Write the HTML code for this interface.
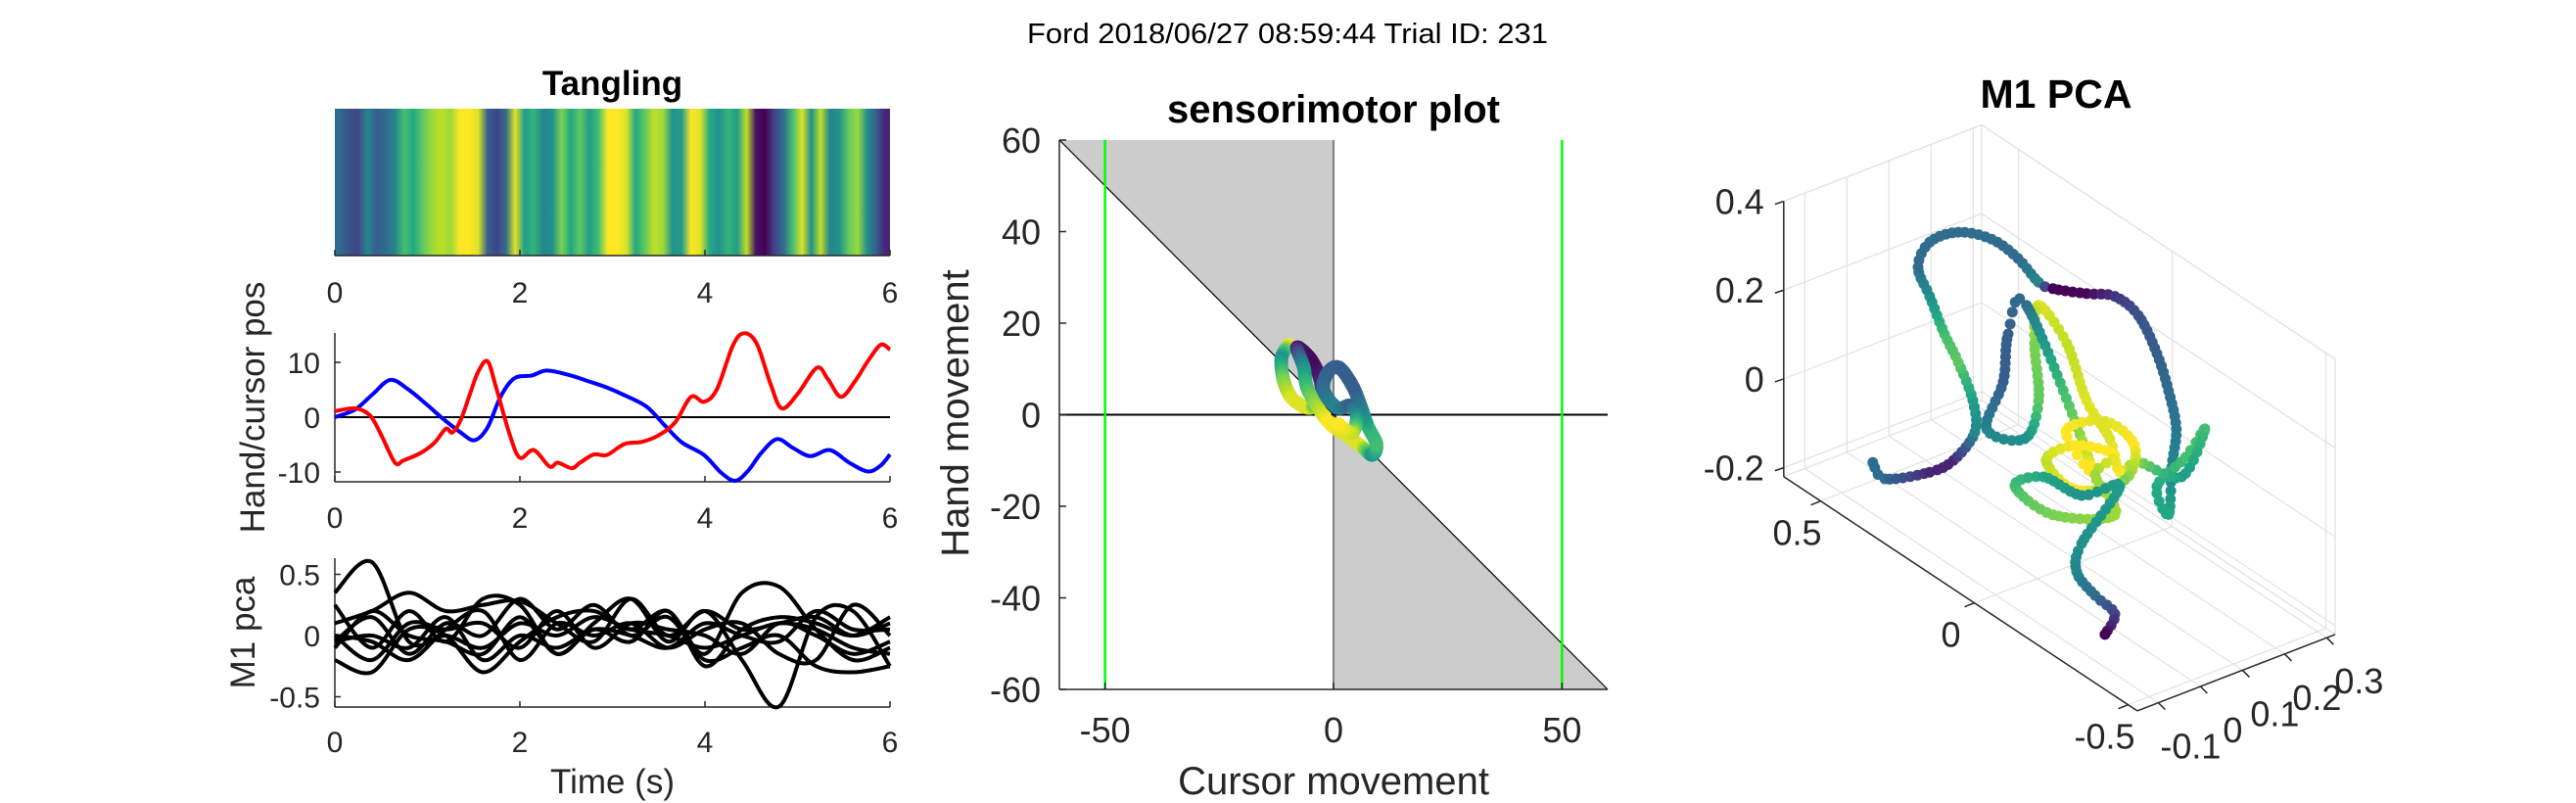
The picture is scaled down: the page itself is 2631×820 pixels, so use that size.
<!DOCTYPE html>
<html><head><meta charset="utf-8"><title>Ford trial 231</title>
<style>html,body{margin:0;padding:0;background:#fff;}svg{display:block;font-family:"Liberation Sans",Arial,sans-serif;}</style>
</head><body>
<svg id="fig" xmlns="http://www.w3.org/2000/svg" width="2631" height="820" viewBox="0 0 2631 820">
<defs><linearGradient id="tangGrad" x1="0" x2="1" y1="0" y2="0"></linearGradient></defs>
<text x="1315" y="44" font-size="29" text-anchor="middle" textLength="532" lengthAdjust="spacingAndGlyphs" fill="#000">Ford 2018/06/27 08:59:44 Trial ID: 231</text>
<g id="left"></g>
<g id="mid"></g>
<g id="pca"></g>
</svg>
<script>
// ---------- DATA ----------
const tangling = [0.35,0.25,0.2,0.45,0.3,0.35,0.45,0.7,0.6,0.75,0.85,0.9,0.85,1.0,1.0,0.95,0.3,0.2,0.35,0.95,0.55,0.65,0.45,0.5,0.8,0.6,0.75,0.55,0.7,1.0,1.0,0.95,0.6,0.75,0.9,0.85,0.5,0.55,1.0,0.95,0.6,0.5,0.65,0.55,0.9,0.05,0.0,0.2,0.35,0.7,0.95,0.5,0.9,0.45,0.5,0.75,0.85,0.5,0.3,0.1];
const cursorT = [0,0.22,0.38,0.5,0.65,0.74,0.93,1.08,1.2,1.27,1.36,1.46,1.55,1.65,1.74,1.89,2.0,2.15,2.32,2.41,2.56,2.65,2.8,2.94,3.13,3.32,3.51,3.68,3.85,3.99,4.13,4.3,4.42,4.56,4.71,4.83,5.0,5.21,5.33,5.47,5.62,5.76,5.9,6.0];
const cursorPos = [1.1,1.6,0.3,-3.2,-8.3,-7.9,-6.5,-4.6,-2.1,-2.8,-0.5,4.2,8.3,10.2,5.6,-3.2,-7.4,-6.0,-9.0,-8.3,-9.3,-8.3,-6.8,-6.9,-4.9,-4.5,-3.2,-0.9,3.7,2.8,5.1,13.0,15.3,13.4,6.0,1.6,4.2,9.0,6.9,3.7,6.5,10.2,13.2,12.3];
const handT = [0,0.22,0.41,0.6,0.79,0.98,1.17,1.36,1.51,1.65,1.79,1.94,2.13,2.29,2.53,2.75,2.94,3.13,3.37,3.56,3.75,3.99,4.18,4.33,4.47,4.61,4.78,4.95,5.14,5.35,5.56,5.76,5.9,6.0];
const handPos = [0,1.4,4.2,6.8,5.1,2.5,-0.3,-2.8,-4.2,-1.9,3.7,7.1,7.6,8.5,7.7,6.5,5.4,4.0,1.9,-1.4,-4.6,-6.9,-10.2,-11.6,-9.7,-6.5,-4.0,-5.6,-7.1,-6.0,-8.3,-9.9,-8.8,-6.8];
const pcaT = [0,0.4,0.8,1.2,1.6,2.0,2.4,2.8,3.2,3.6,4.0,4.4,4.8,5.2,5.6,6.0];
const pc1 = [0.35,0.6,-0.05,0.0,-0.1,0.1,0.0,0.15,0.05,0.0,-0.1,0.0,0.1,0.05,-0.1,-0.15];
const pc2 = [0.1,0.2,0.35,0.2,0.25,0.28,0.1,-0.05,0.3,0.0,0.2,0.05,0.1,0.15,0.0,0.1];
const pc3 = [-0.2,-0.3,0.05,0.0,-0.3,-0.05,0.15,0.2,0.05,0.2,-0.15,0.35,0.4,0.05,-0.2,-0.1];
const pc4 = [0.25,-0.1,0.2,-0.05,0.3,0.25,-0.15,0.1,0.3,-0.05,0.2,-0.2,-0.58,0.15,0.2,-0.25];
const pc5 = [-0.05,0.15,-0.15,0.1,0.0,0.3,0.05,0.25,0.0,0.15,-0.2,-0.1,0.0,-0.25,-0.3,-0.25];
const pc6 = [0.0,-0.05,-0.2,0.05,0.2,-0.2,0.1,0.0,0.1,-0.1,0.05,0.1,-0.15,-0.2,0.25,0.0];
const pc7 = [-0.1,0.2,0.0,-0.05,-0.15,0.15,-0.15,0.05,-0.05,0.2,-0.25,0.05,0.15,0.1,0.0,0.15];
const pc8 = [0.0,-0.2,0.1,0.05,0.1,-0.1,0.2,-0.1,0.1,0.05,0.0,-0.15,0.1,0.0,-0.15,-0.05];
const pc9 = [-0.05,0.0,-0.1,0.15,-0.2,0.0,-0.1,0.05,0.0,-0.1,0.1,0.0,-0.05,0.2,0.05,0.05];
const smCursor = [-9.9,-11.4,-10.9,-8.9,-5.1,-2.7,-3.1,-5.1,-8,-6.5,-5.6,-1.2,2.7,6.1,8.5,9.4,7.5,6.1,4.1,1.2,-1.2,-2.2,0.8,3.7,5.1,4,1];
const smHand = [15.2,12.3,7.4,3.4,1.5,4.4,8.3,12.3,14.7,10.3,5.4,-1.5,-4.4,-6.9,-8.8,-6.4,-2.5,1.5,6.4,10.3,9.3,5.4,1.5,2,-0.5,-4,-2];
const smTang = [1.0,0.5,0.8,0.95,0.95,0.3,0.1,0.02,0.05,0.5,0.7,1.0,0.95,0.95,0.5,0.7,0.65,0.45,0.3,0.3,0.3,0.35,0.45,0.3,0.5,0.9,1.0];
const p3x = [0.604,0.565,0.419,0.342,0.272,0.279,0.326,0.371,0.419,0.457,0.419,0.326,0.218,0.132,0.065,0.018,-0.091,-0.183,-0.26,-0.32,-0.358,-0.383,-0.368,-0.358,-0.32,-0.413,-0.476,-0.4,-0.26,-0.199,-0.167,-0.091,-0.027,0.065,0.078,0.065,0.11,0.234,0.18,0.164,0.104,-0.107,-0.024,-0.151,-0.247,-0.215,-0.056,0.040,-0.056,-0.183,-0.119,-0.183,0.018,0.142,0.049,-0.075,-0.199,-0.075,-0.059,-0.119,-0.183,-0.151];
const p3y = [0.05,0.05,0.05,0.05,0.05,0.05,0.05,0.05,0.05,0.05,0.05,0.05,0.05,0.05,0.05,0.05,0.05,0.05,0.05,0.05,0.05,0.05,0.05,0.05,0.05,0.05,0.05,0.05,0.05,0.05,0.05,0.05,0.05,0.05,0.05,0.05,0.05,0.05,0.05,0.05,0.05,0.05,0.05,0.05,0.05,0.05,0.05,0.05,0.05,0.05,0.05,0.05,0.05,0.05,0.05,0.05,0.05,0.05,0.05,0.05,0.05,0.05];
const p3z = [-0.254,-0.273,-0.191,-0.129,-0.033,0.035,0.099,0.142,0.205,0.253,0.327,0.392,0.426,0.422,0.399,0.406,0.445,0.481,0.473,0.415,0.348,0.274,0.181,0.07,0.116,0.224,0.317,0.174,0.143,0.093,0.153,0.204,0.303,0.347,0.255,0.132,0.026,-0.009,0.122,0.237,0.329,0.062,0.105,0.185,0.174,0.082,-0.013,0.01,0.087,0.123,0.05,-0.011,-0.103,-0.095,-0.032,-0.017,0.061,-0.125,-0.196,-0.222,-0.234,-0.295];
const p3c = [0.35,0.35,0.1,0.1,0.45,0.55,0.75,0.7,0.5,0.35,0.35,0.35,0.35,0.35,0.45,0.0,0.02,0.15,0.25,0.3,0.35,0.4,0.45,0.6,0.6,0.7,0.7,0.55,0.8,1.0,0.95,0.95,0.9,0.95,0.8,0.75,0.5,0.45,0.3,0.3,0.35,1.0,1.0,0.95,1.0,0.8,1.0,0.9,1.0,1.0,0.85,0.85,0.8,0.7,0.6,0.5,0.55,0.5,0.45,0.35,0.2,0.0];
const timeTicks = [0,2,4,6];
const posTicks = [-10,0,10];
const pcaTicks = [-0.5,0,0.5];
const smTicksY = [-60,-40,-20,0,20,40,60];
const smTicksX = [-50,0,50];
const t3x = [-0.5,0,0.5];
const t3y = [-0.1,0,0.1,0.2,0.3];
const t3z = [-0.2,0,0.2,0.4];

// ---------- HELPERS ----------
const NS="http://www.w3.org/2000/svg";
function mk(tag,parent,attrs){const e=document.createElementNS(NS,tag);for(const k in attrs)e.setAttribute(k,attrs[k]);parent.appendChild(e);return e;}
const VIR=[[68,1,84],[72,36,117],[65,68,135],[53,95,141],[42,120,142],[33,145,140],[34,168,132],[68,191,112],[122,209,81],[189,223,38],[253,231,37]];
function viridis(v){v=Math.max(0,Math.min(1,v));const f=v*10,i=Math.min(9,Math.floor(f)),t=f-i;const a=VIR[i],b=VIR[i+1];return `rgb(${Math.round(a[0]+(b[0]-a[0])*t)},${Math.round(a[1]+(b[1]-a[1])*t)},${Math.round(a[2]+(b[2]-a[2])*t)})`;}
function crPath(P){let d=`M${P[0][0]},${P[0][1]}`;for(let i=0;i<P.length-1;i++){const p0=P[i-1]||P[i],p1=P[i],p2=P[i+1],p3=P[i+2]||P[i+1];d+=` C${p1[0]+(p2[0]-p0[0])/6},${p1[1]+(p2[1]-p0[1])/6} ${p2[0]-(p3[0]-p1[0])/6},${p2[1]-(p3[1]-p1[1])/6} ${p2[0]},${p2[1]}`;}return d;}
function crSample(P,C,step){const out=[];for(let i=0;i<P.length-1;i++){const p0=P[i-1]||P[i],p1=P[i],p2=P[i+1],p3=P[i+2]||P[i+1];const n=Math.max(1,Math.round(Math.hypot(p2[0]-p1[0],p2[1]-p1[1])/step));for(let k=0;k<n;k++){const t=k/n,t2=t*t,t3=t2*t;const f=j=>0.5*(2*p1[j]+(-p0[j]+p2[j])*t+(2*p0[j]-5*p1[j]+4*p2[j]-p3[j])*t2+(-p0[j]+3*p1[j]-3*p2[j]+p3[j])*t3);out.push([f(0),f(1),C[i]+(C[i+1]-C[i])*t]);}}const L=P.length-1;out.push([P[L][0],P[L][1],C[L]]);return out;}
const AX="#262626";

// ---------- LEFT PANELS ----------
const left=document.getElementById('left');
const LX=342,RX=909;
const tx=t=>LX+(RX-LX)*t/6;
const grad=document.getElementById('tangGrad');
tangling.forEach((v,i)=>{mk('stop',grad,{offset:((i+0.5)/tangling.length).toFixed(4),'stop-color':viridis(v)});});
const hm=mk('rect',left,{x:LX,y:111,width:RX-LX,height:150,fill:'url(#tangGrad)'});


const tt=mk('text',left,{x:(LX+RX)/2,y:97,'font-size':35,'font-weight':'bold','text-anchor':'middle',fill:'#000'});tt.textContent='Tangling';



function timeAxis(yb,labelY,name){
  const ax=mk('line',left,{x1:LX,x2:RX,y1:yb,y2:yb,stroke:AX,'stroke-width':1.5});
  
  
  timeTicks.forEach(t=>{mk('line',left,{x1:tx(t),x2:tx(t),y1:yb,y2:yb-6,stroke:AX,'stroke-width':1.5});
    const l=mk('text',left,{x:tx(t),y:labelY,'font-size':30,'text-anchor':'middle',fill:AX});l.textContent=t;
    
    });
}
timeAxis(261,309,'tangling');
const y2=v=>426-5.6*v;
timeAxis(492,539,'hand-cursor');
const la2=mk('line',left,{x1:LX,x2:LX,y1:340,y2:492,stroke:AX,'stroke-width':1.5});


posTicks.forEach(v=>{mk('line',left,{x1:LX,x2:LX+6,y1:y2(v),y2:y2(v),stroke:AX,'stroke-width':1.5});
  const l=mk('text',left,{x:327,y:y2(v)+11,'font-size':30,'text-anchor':'end',fill:AX});l.textContent=v;
  
  });
const z2=mk('line',left,{x1:LX,x2:RX,y1:y2(0),y2:y2(0),stroke:'#000','stroke-width':2});


const bl=mk('path',left,{d:crPath(handT.map((t,i)=>[tx(t),y2(handPos[i])])),fill:'none',stroke:'#0000ff','stroke-width':4,'stroke-linejoin':'round'});


const rl=mk('path',left,{d:crPath(cursorT.map((t,i)=>[tx(t),y2(cursorPos[i])])),fill:'none',stroke:'#ff0000','stroke-width':4,'stroke-linejoin':'round'});


const yl2=mk('text',left,{x:0,y:0,'font-size':35,'text-anchor':'middle',fill:AX,transform:'translate(270,416) rotate(-90)'});yl2.textContent='Hand/cursor pos';


const y3=v=>649-125*v;
timeAxis(722,768,'m1-pca');
const la3=mk('line',left,{x1:LX,x2:LX,y1:570,y2:722,stroke:AX,'stroke-width':1.5});


pcaTicks.forEach(v=>{mk('line',left,{x1:LX,x2:LX+6,y1:y3(v),y2:y3(v),stroke:AX,'stroke-width':1.5});
  const l=mk('text',left,{x:327,y:y3(v)+11,'font-size':30,'text-anchor':'end',fill:AX});l.textContent=v;
  
  });
[pc1,pc2,pc3,pc4,pc5,pc6,pc7,pc8,pc9].forEach((s,k)=>{
  const p=mk('path',left,{d:crPath(pcaT.map((t,i)=>[tx(t),y3(s[i])])),fill:'none',stroke:'#000','stroke-width':4,'stroke-linejoin':'round'});
  
  
});
const yl3=mk('text',left,{x:0,y:0,'font-size':35,'text-anchor':'middle',fill:AX,transform:'translate(260,646) rotate(-90)'});yl3.textContent='M1 pca';


const xl=mk('text',left,{x:(LX+RX)/2,y:810,'font-size':35,'text-anchor':'middle',fill:AX});xl.textContent='Time (s)';



// ---------- MIDDLE ----------
const mid=document.getElementById('mid');
const xs=c=>1362+4.667*c, ys=h=>423.5-4.675*h;
const g1=mk('polygon',mid,{points:`${xs(-60)},${ys(60)} ${xs(0)},${ys(60)} ${xs(0)},${ys(0)}`,fill:'#cccccc'});


const g2=mk('polygon',mid,{points:`${xs(0)},${ys(0)} ${xs(60)},${ys(-60)} ${xs(0)},${ys(-60)}`,fill:'#cccccc'});


const dg=mk('line',mid,{x1:xs(-60),y1:ys(60),x2:xs(60),y2:ys(-60),stroke:'#000','stroke-width':1.2});


const vz=mk('line',mid,{x1:xs(0),y1:ys(60),x2:xs(0),y2:ys(-60),stroke:'#808080','stroke-width':2});


const hz=mk('line',mid,{x1:xs(-60),y1:ys(0),x2:xs(60),y2:ys(0),stroke:'#000','stroke-width':2});


[-50,50].forEach(c=>{const g=mk('line',mid,{x1:xs(c),y1:ys(60),x2:xs(c),y2:ys(-60),stroke:'#00ff00','stroke-width':2.5});
  
  });
const smPts=crSample(smCursor.map((c,i)=>[xs(c),ys(smHand[i])]),smTang,2.5);
smPts.forEach(p=>{const d=mk('circle',mid,{cx:p[0].toFixed(1),cy:p[1].toFixed(1),r:7,fill:viridis(p[2])});
  
  });
const may=mk('line',mid,{x1:xs(-60),x2:xs(-60),y1:ys(60),y2:ys(-60),stroke:AX,'stroke-width':1.5});


const max=mk('line',mid,{x1:xs(-60),x2:xs(60),y1:ys(-60),y2:ys(-60),stroke:AX,'stroke-width':1.5});


smTicksY.forEach(v=>{mk('line',mid,{x1:xs(-60),x2:xs(-60)+7,y1:ys(v),y2:ys(v),stroke:AX,'stroke-width':1.5});
  const l=mk('text',mid,{x:1063,y:ys(v)+13,'font-size':36,'text-anchor':'end',fill:AX});l.textContent=v;
  
  });
smTicksX.forEach(v=>{mk('line',mid,{x1:xs(v),x2:xs(v),y1:ys(-60),y2:ys(-60)-7,stroke:AX,'stroke-width':1.5});
  const l=mk('text',mid,{x:xs(v),y:758,'font-size':36,'text-anchor':'middle',fill:AX});l.textContent=v;
  
  });
const st=mk('text',mid,{x:1362,y:125,'font-size':40,'font-weight':'bold','text-anchor':'middle',fill:'#000'});st.textContent='sensorimotor plot';


const cm=mk('text',mid,{x:1362,y:811,'font-size':40,'text-anchor':'middle',fill:AX});cm.textContent='Cursor movement';


const hmv=mk('text',mid,{x:0,y:0,'font-size':40,'text-anchor':'middle',fill:AX,transform:'translate(989,422) rotate(-90)'});hmv.textContent='Hand movement';



// ---------- 3D PCA ----------
const pca=document.getElementById('pca');
const XR=[-0.53,0.62],YR=[-0.15,0.32],ZR=[-0.22,0.4];
function P3(x,y,z){return [2081-314*x+430*y, 491-208*x-166*y-453.5*z];}
function gl(a,b){const l=mk('line',pca,{x1:a[0],y1:a[1],x2:b[0],y2:b[1],stroke:'#e3e3e3','stroke-width':1.3});
  
  }
t3z.forEach(z=>gl(P3(XR[1],YR[0],z),P3(XR[1],YR[1],z)));
t3y.forEach(y=>gl(P3(XR[1],y,ZR[0]),P3(XR[1],y,ZR[1])));
t3z.forEach(z=>gl(P3(XR[0],YR[1],z),P3(XR[1],YR[1],z)));
t3x.forEach(x=>gl(P3(x,YR[1],ZR[0]),P3(x,YR[1],ZR[1])));
t3x.forEach(x=>gl(P3(x,YR[0],ZR[0]),P3(x,YR[1],ZR[0])));
t3y.forEach(y=>gl(P3(XR[0],y,ZR[0]),P3(XR[1],y,ZR[0])));
[[P3(XR[1],YR[1],ZR[0]),P3(XR[1],YR[1],ZR[1])],[P3(XR[1],YR[0],ZR[1]),P3(XR[1],YR[1],ZR[1])],[P3(XR[0],YR[1],ZR[1]),P3(XR[1],YR[1],ZR[1])],[P3(XR[0],YR[1],ZR[0]),P3(XR[0],YR[1],ZR[1])],[P3(XR[1],YR[0],ZR[0]),P3(XR[1],YR[1],ZR[0])],[P3(XR[0],YR[1],ZR[0]),P3(XR[1],YR[1],ZR[0])]].forEach(e=>gl(e[0],e[1]));
function axl(a,b,name){const l=mk('line',pca,{x1:a[0],y1:a[1],x2:b[0],y2:b[1],stroke:AX,'stroke-width':1.5});
  
  }
axl(P3(XR[1],YR[0],ZR[0]),P3(XR[1],YR[0],ZR[1]),'pc3-axis');
axl(P3(XR[1],YR[0],ZR[0]),P3(XR[0],YR[0],ZR[0]),'pc1-axis');
axl(P3(XR[0],YR[0],ZR[0]),P3(XR[0],YR[1],ZR[0]),'pc2-axis');
function tlab(txt,x,y,anchor,name){const l=mk('text',pca,{x:x,y:y,'font-size':36,'text-anchor':anchor,fill:AX});l.textContent=txt;
  
  }
t3z.forEach(z=>{const p=P3(XR[1],YR[0],z);axl(p,[p[0]-9,p[1]+3],'pc3-tick');tlab(z,p[0]-20,p[1]+13,'end','pc3-tick-label');});
t3x.forEach(x=>{const p=P3(x,YR[0],ZR[0]);axl(p,[p[0]-10,p[1]+4],'pc1-tick');tlab(x,p[0]-24,p[1]+45,'middle','pc1-tick-label');});
t3y.forEach(y=>{const p=P3(XR[0],y,ZR[0]);axl(p,[p[0]+7,p[1]+7],'pc2-tick');tlab(y,p[0]+33,p[1]+57,'middle','pc2-tick-label');});
const pts3=p3x.map((x,i)=>P3(x,p3y[i],p3z[i]));
crSample(pts3,p3c,6.5).forEach(p=>{const d=mk('circle',pca,{cx:p[0].toFixed(1),cy:p[1].toFixed(1),r:5.5,fill:viridis(p[2])});
  
  });
const pt=mk('text',pca,{x:2100,y:110,'font-size':41,'font-weight':'bold','text-anchor':'middle',fill:'#000'});pt.textContent='M1 PCA';


</script>
</body></html>
